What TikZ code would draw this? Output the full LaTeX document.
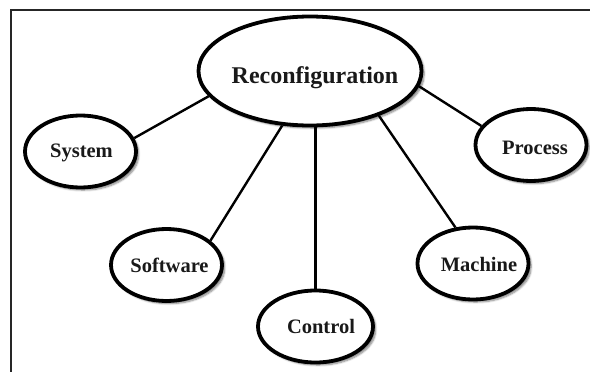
\documentclass[tikz,border=0pt]{standalone}
\usepackage{fontspec}
\setmainfont{Liberation Serif}
\usetikzlibrary{shapes.geometric,shadows.blur}

\tikzset{
  bubble/.style={ellipse, draw=black, line width=3.8pt, fill=white, inner sep=0pt,
    blur shadow={shadow xshift=2.5pt, shadow yshift=-2.5pt, shadow opacity=50, shadow blur steps=6, shadow blur extra rounding=2pt}},
  leaf/.style={bubble, minimum width=111pt, minimum height=72pt},
  word/.style={anchor=base, inner sep=0pt, text=black!90, font=\bfseries\fontsize{20.5}{24}\selectfont},
  bigword/.style={word, font=\bfseries\fontsize{24}{28}\selectfont},
  link/.style={line width=2.4pt, draw=black},
  frame/.style={line width=2.6pt, draw=black!85}
}

\begin{document}
\begin{tikzpicture}[x=1pt, y=-1pt]
  \useasboundingbox (0,0) rectangle (590,372);

  % open frame: top and left edges only
  \draw[frame] (590,10) -- (11,10) -- (11,372);

  % ellipses
  \node[bubble, minimum width=223pt, minimum height=109pt] (rec) at (310,71) {};
  \node[leaf] (sys) at (80.5,151.5) {};
  \node[leaf] (sw)  at (166.5,265) {};
  \node[leaf, minimum width=115pt] (ctl) at (315.5,326.5) {};
  \node[leaf] (mac) at (473,263.5) {};
  \node[leaf] (pro) at (531,145) {};

  % labels
  \node[bigword] (recT) at (315,83) {Reconfiguration};
  \node[word] (sysT) at (81.5,157) {System};
  \node[word] (swT)  at (169.5,272) {Software};
  \node[word] (ctlT) at (321,333) {Control};
  \node[word] (macT) at (479,271) {Machine};
  \node[word] (proT) at (535,154) {Process};

  % connectors
  \draw[link] (rec.194.4) -- (sys.14.6);
  \draw[link] (rec.243.8) -- (sw.29.7);
  \draw[link] (ctl.north) -- (ctl.north |- rec.south);
  \draw[link] (rec.327.8) -- (mac.116.9);
  \draw[link] (rec.352.7) -- (pro.159.4);
\end{tikzpicture}
\end{document}
